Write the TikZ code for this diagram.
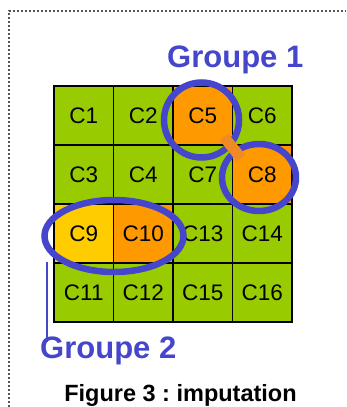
\documentclass[tikz,border=0pt]{standalone}
\usepackage{fontspec}
\setmainfont{Liberation Sans}
\usetikzlibrary{shapes.geometric}
\definecolor{Leaf}{HTML}{99CC00}
\definecolor{Amber}{HTML}{FF9900}
\definecolor{Gold}{HTML}{FFCC00}
\definecolor{Ring}{HTML}{4646CC}
\definecolor{Link}{HTML}{F08A24}
\definecolor{Frame}{HTML}{555555}
\tikzset{
  cell/.style={draw=black,line width=1.5pt,minimum width=59.5pt,minimum height=59pt,inner sep=0pt,font=\fontsize{22.5}{25}\selectfont},
  ring/.style={draw=Ring,line width=6.5pt,inner sep=0pt},
  grouplabel/.style={text=Ring,font=\bfseries\fontsize{31}{34}\selectfont,inner sep=0pt}
}
\begin{document}
\frenchspacing
\begin{tikzpicture}[x=1pt,y=-1pt]
  \useasboundingbox (0,0) rectangle (346,407);
  \draw[Frame,line width=1.5pt,dash pattern=on 2pt off 2pt] (9,407) -- (9,11) -- (346,11);
  % grid of cells
  \foreach \r/\c/\name/\col in {0/0/C1/Leaf,0/1/C2/Leaf,0/2/C5/Amber,0/3/C6/Leaf,
      1/0/C3/Leaf,1/1/C4/Leaf,1/2/C7/Leaf,1/3/C8/Amber,
      2/0/C9/Gold,2/1/C10/Amber,2/2/C13/Leaf,2/3/C14/Leaf,
      3/0/C11/Leaf,3/1/C12/Leaf,3/2/C15/Leaf,3/3/C16/Leaf} {
    \node[cell,fill=\col] (\name) at ({83.75+59.5*\c},{115.5+59*\r}) {\name};
  }
  % groups
  \node[ring,circle,minimum size=75pt] (g1a) at (201.5,120) {};
  \node[ring,ellipse,minimum width=74pt,minimum height=67pt] (g1b) at (259,177.5) {};
  \draw[Link,line width=11pt] (224,137) -- (241,158);
  \node[ring,ellipse,minimum width=139pt,minimum height=72pt] (g2) at (114,236) {};
  \node[grouplabel,anchor=base west] (lblg1) at (167,67) {Groupe 1};
  \node[grouplabel,anchor=base west] (lblg2) at (40,358) {Groupe 2};
  \coordinate (tick) at (47,262);
  \draw[Ring,line width=1.5pt] (tick) -- ([yshift=-6pt]tick |- lblg2.north);
  \node[font=\bfseries\fontsize{23.5}{26}\selectfont,anchor=base,inner sep=0pt] (caption) at (180.5,401) {Figure 3 : imputation};
\end{tikzpicture}
\end{document}
